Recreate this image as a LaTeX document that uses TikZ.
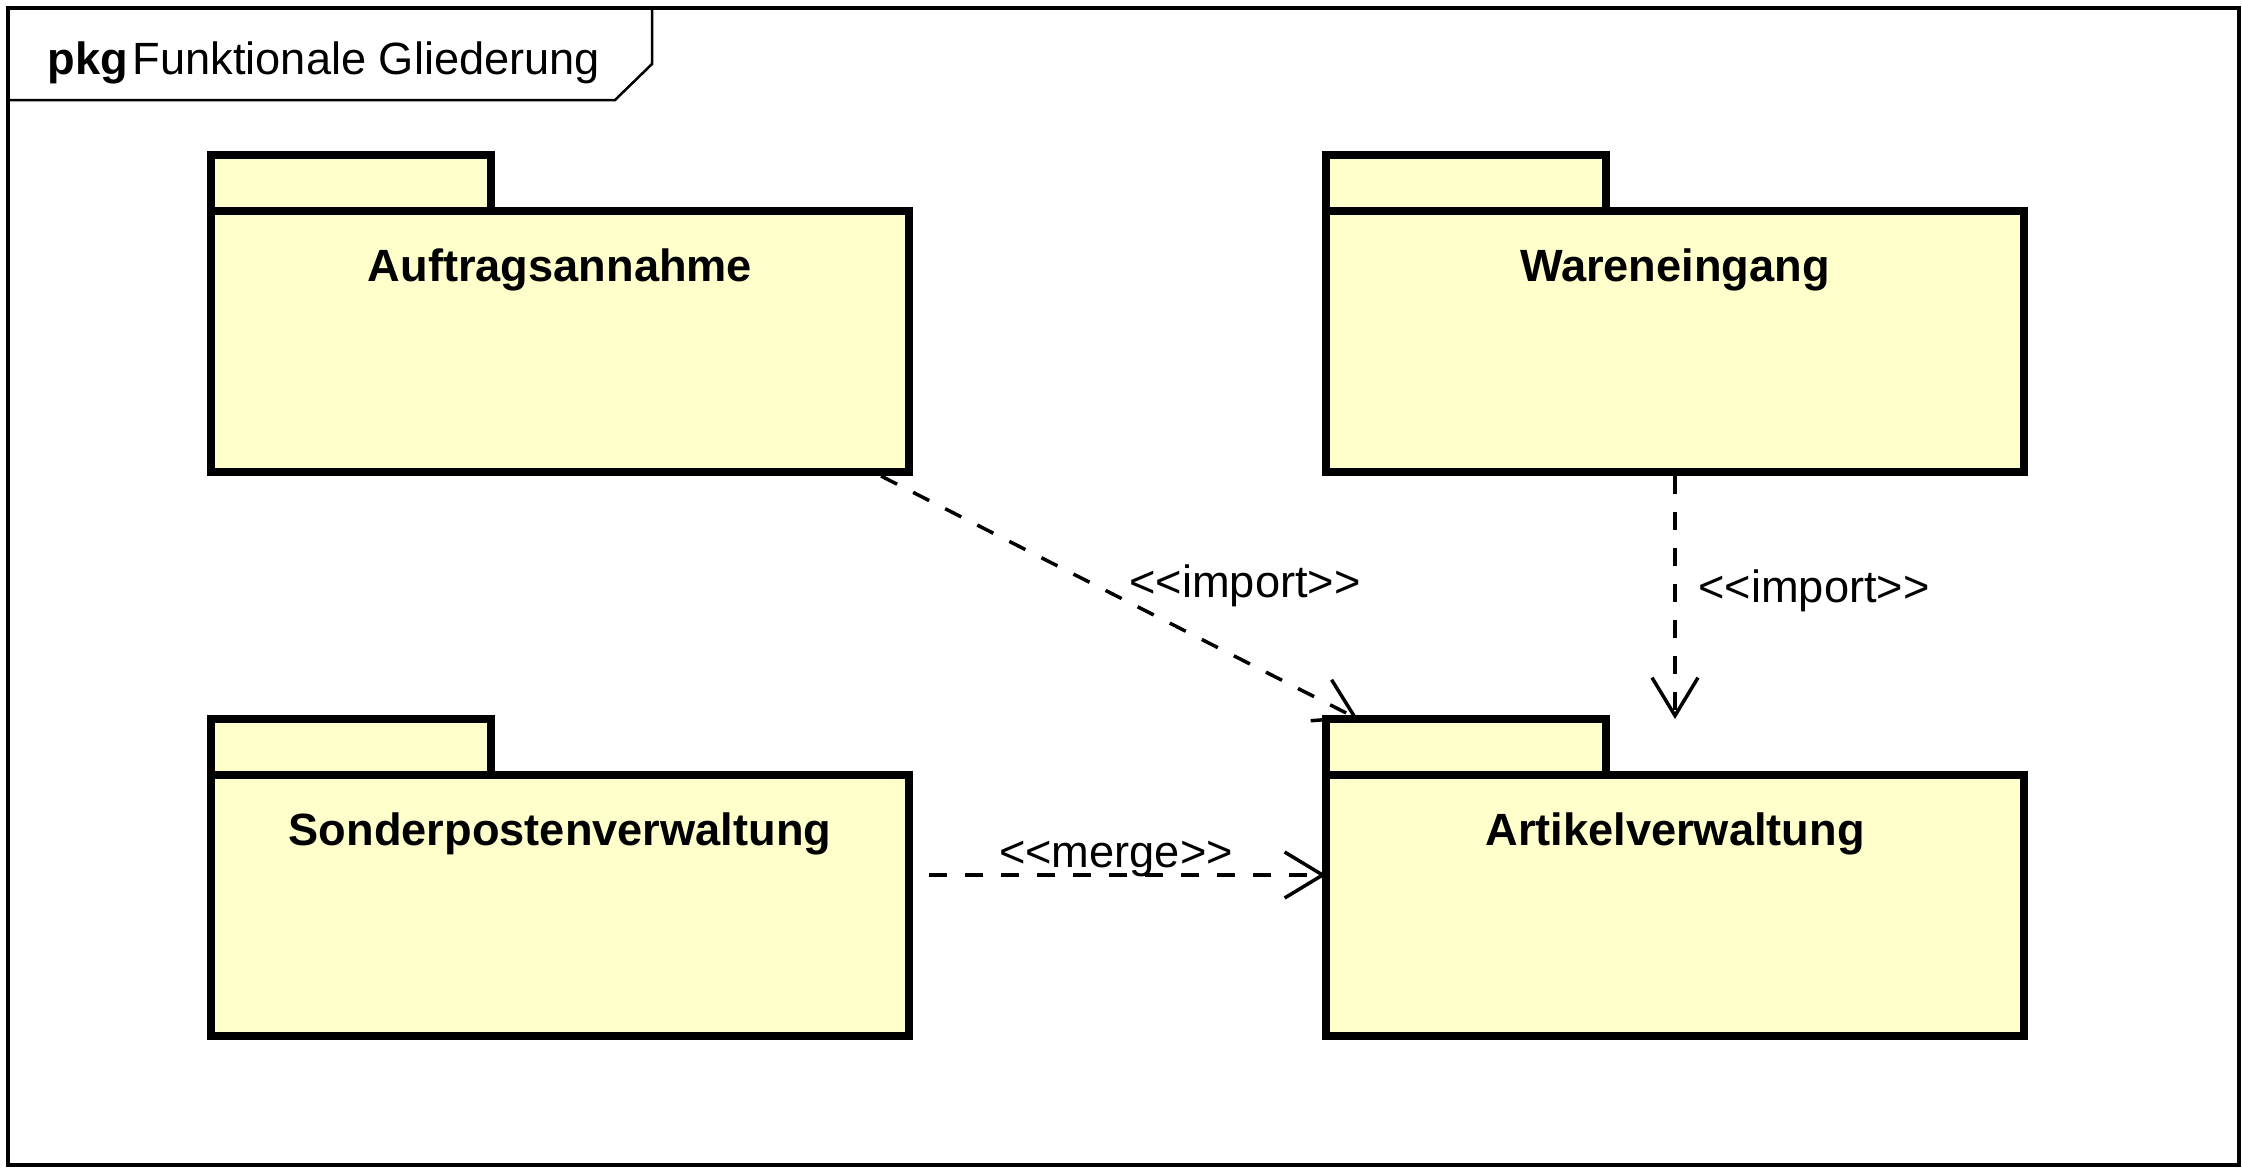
\documentclass[tikz,border=0pt]{standalone}
\usepackage{fontspec}
\setmainfont{Liberation Sans}
\usetikzlibrary{arrows.meta,calc}
\definecolor{pkgfill}{RGB}{255,255,204}
\def\dlt{<\kern0pt<}
\def\dgt{>\kern0pt>}
\begin{document}
\begin{tikzpicture}[x=0.5pt,y=-0.5pt,
  pkgbody/.style={draw=black, fill=pkgfill, line width=3.75pt, minimum width=349pt, minimum height=130.5pt, anchor=north west, inner sep=0pt, outer sep=0pt},
  pkgtab/.style={draw=black, fill=pkgfill, line width=3.75pt, minimum width=140pt, minimum height=28pt, anchor=south west, inner sep=0pt, outer sep=0pt},
  pkgname/.style={font=\fontsize{22.6pt}{27pt}\selectfont\bfseries, anchor=base, inner sep=0pt},
  dep/.style={draw=black, line width=1.75pt, dash pattern=on 9pt off 9pt, -{Straight Barb[length=19pt,width=23pt]}},
  lbl/.style={font=\fontsize{22.6pt}{27pt}\selectfont, anchor=base, inner sep=0pt},
]
\fill[white] (0,0) rectangle (2242,1169);
\useasboundingbox (0,0) rectangle (2242,1169);
% outer frame
\node[draw=black, line width=1.75pt, anchor=north west, minimum width=1115.5pt, minimum height=578.5pt, inner sep=0pt] (frame) at (6,6) {};
\draw[line width=1.25pt] (6,100) -- (615,100) -- (652,64) -- (652,6);
\node[anchor=base west, inner sep=0pt, font=\fontsize{22.6pt}{27pt}\selectfont] (hdr) at (47,74) {\textbf{pkg}\hspace{2.5pt}Funktionale Gliederung};

% packages
\coordinate (aaNW) at (211,211);
\coordinate (weNW) at (1326,211);
\coordinate (spNW) at (211,775);
\coordinate (avNW) at (1326,775);

\node[pkgtab] (aatab) at (aaNW) {};
\node[pkgbody] (aa) at (aaNW) {};
\node[pkgname] (aaname) at ([yshift=-35pt]aa.north) {Auftragsannahme};

\node[pkgtab] (wetab) at (weNW) {};
\node[pkgbody] (we) at (weNW) {};
\node[pkgname] (wename) at ([yshift=-35pt]we.north) {Wareneingang};

\node[pkgtab] (sptab) at (spNW) {};
\node[pkgbody] (sp) at (spNW) {};
\node[pkgname] (spname) at ([yshift=-35pt]sp.north) {Sonderpostenverwaltung};

\node[pkgtab] (avtab) at (avNW) {};
\node[pkgbody] (av) at (avNW) {};
\node[pkgname] (avname) at ([yshift=-35pt]av.north) {Artikelverwaltung};

% dependencies
\draw[dep] ([xshift=-14pt,yshift=-2pt]aa.south east) -- ([xshift=16pt]avtab.north west);
\draw[dep] ([yshift=-2pt]we.south) -- ([yshift=28pt]av.north);
\draw[dep] ([xshift=10pt,yshift=15.25pt]sp.east) -- ([yshift=15.25pt]av.west);

\node[lbl] (l1) at (1245,597) {\dlt import\dgt};
\node[lbl] (l2) at (1814,602) {\dlt import\dgt};
\node[lbl] (l3) at (1116,867) {\dlt merge\dgt};
\end{tikzpicture}
\end{document}
